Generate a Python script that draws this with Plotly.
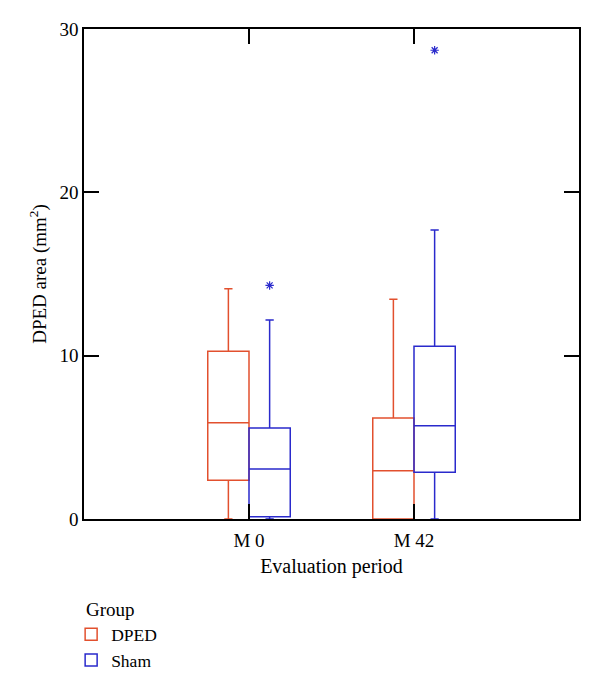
import plotly.graph_objects as go

categories = ["M 0", "M 42"]
groups = ["DPED", "Sham"]

dped_lower = [0.0, 0.0]
dped_q1 = [2.37, 0.0]
dped_median = [5.9, 2.96]
dped_q3 = [10.27, 6.18]
dped_upper = [14.1, 13.45]

sham_lower = [0.0, 0.0]
sham_q1 = [0.14, 2.86]
sham_median = [3.06, 5.71]
sham_q3 = [5.57, 10.57]
sham_upper = [12.19, 17.7]

sham_outlier_cat = [0, 1]
sham_outlier_val = [14.3, 28.7]

colors = {"DPED": "#E2502E", "Sham": "#2A2ACC"}
BW = 0.25
offsets = {"DPED": -BW / 2, "Sham": BW / 2}

stats = {
    "DPED": (dped_lower, dped_q1, dped_median, dped_q3, dped_upper),
    "Sham": (sham_lower, sham_q1, sham_median, sham_q3, sham_upper),
}

fig = go.Figure()
for g in groups:
    lo, q1, med, q3, up = stats[g]
    xs = [i + offsets[g] for i in range(len(categories))]
    fig.add_trace(go.Box(
        name=g, x=xs, q1=q1, median=med, q3=q3,
        lowerfence=lo, upperfence=up,
        width=BW, whiskerwidth=0.2,
        line=dict(color=colors[g], width=1.5),
        fillcolor="rgba(255,255,255,0)",
        boxpoints=False, showlegend=True,
    ))

fig.add_trace(go.Scatter(
    x=[c + offsets["Sham"] for c in sham_outlier_cat], y=sham_outlier_val,
    mode="markers",
    marker=dict(symbol="asterisk-open", size=7, color=colors["Sham"],
                line=dict(color=colors["Sham"], width=1.2)),
    showlegend=False, hoverinfo="skip",
))

font = dict(family="Liberation Serif, DejaVu Serif, serif", size=19, color="black")

fig.add_annotation(
    text="Group", xref="paper", yref="paper", x=0, y=-0.1837,
    xanchor="left", yanchor="middle", showarrow=False, font=font,
)

fig.update_layout(
    width=592, height=685,
    margin=dict(l=76, r=21, t=21, b=174, autoexpand=False),
    plot_bgcolor="white", paper_bgcolor="white",
    font=font,
    legend=dict(
        x=-0.026, xanchor="left", y=-0.1985, yanchor="top",
        font=dict(family=font["family"], size=17.5, color="black"),
        bgcolor="rgba(0,0,0,0)", tracegroupgap=0,
    ),
    xaxis=dict(
        range=[-1, 2], tickvals=list(range(len(categories))), ticktext=categories,
        ticks="inside", ticklen=15, tickwidth=1.5, tickcolor="black",
        showline=True, linecolor="black", linewidth=1.5, mirror="ticks",
        showgrid=False, zeroline=False, ticklabelstandoff=3,
        title=dict(text="Evaluation period", font=dict(family=font["family"], size=20, color="black"), standoff=9),
    ),
    yaxis=dict(
        range=[0, 30], tickvals=[0, 10, 20, 30],
        ticks="inside", ticklen=15, tickwidth=1.5, tickcolor="black",
        showline=True, linecolor="black", linewidth=1.5, mirror="ticks",
        showgrid=False, zeroline=False,
        title=dict(text="DPED area (mm<sup>2</sup>)", font=font, standoff=8),
    ),
)

fig.write_html("out.html")
